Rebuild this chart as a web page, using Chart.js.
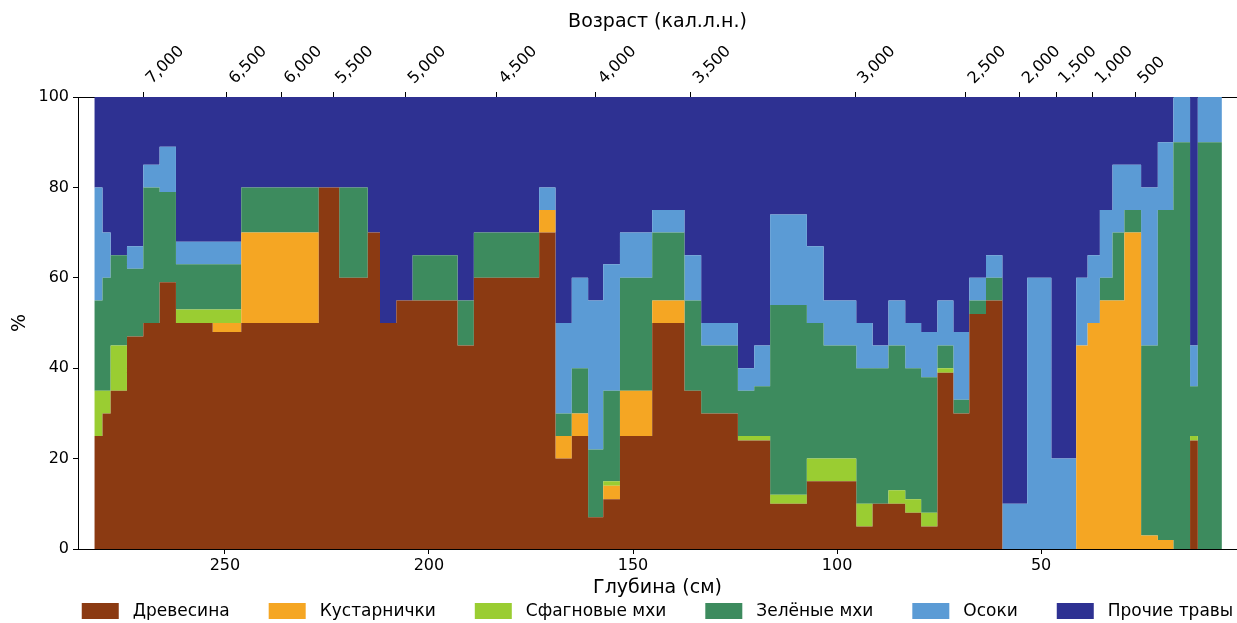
<!DOCTYPE html>
<html lang="ru">
<head>
<meta charset="utf-8">
<title>Растительные остатки по глубине</title>
<script src="https://cdn.jsdelivr.net/npm/chart.js@4.4.1/dist/chart.umd.min.js"></script>
<style>
  html, body { margin: 0; padding: 0; background: #ffffff; }
  #wrap { width: 1237px; height: 623px; }
</style>
</head>
<body>
<div id="wrap"><canvas id="chart" width="1237" height="623"></canvas></div>
<script>
// Top depth of each sample interval (cm); each interval runs to the next depth.
const depths = [282, 280, 278, 274, 270, 266, 262, 253, 246, 227, 222, 215, 212, 208, 204,
  193, 189, 173, 169, 165, 161, 157.3, 153.2, 145.3, 137.4, 133.3, 124.3, 120.3, 116.4,
  107.4, 103.3, 95.3, 91.3, 87.4, 83.3, 79.4, 75.4, 71.5, 67.6, 63.5, 59.5, 53.4, 47.5,
  41.4, 38.6, 35.6, 32.5, 29.6, 25.5, 21.4, 17.6, 13.5, 11.6];
const depthEnd = 5.7;

// Composition of plant remains, % per interval
const wood = [25, 30, 35, 47, 50, 59, 50, 48, 50, 80, 60, 70, 50, 55, 55,
  45, 60, 70, 20, 25, 7, 11, 25, 50, 35, 30, 24, 24, 10,
  15, 15, 5, 10, 10, 8, 5, 39, 30, 52, 55, 0, 0, 0,
  0, 0, 0, 0, 0, 0, 0, 0, 24, 0];
const shrubs = [0, 0, 0, 0, 0, 0, 0, 2, 20, 0, 0, 0, 0, 0, 0,
  0, 0, 5, 5, 5, 0, 3, 10, 5, 0, 0, 0, 0, 0,
  0, 0, 0, 0, 0, 0, 0, 0, 0, 0, 0, 0, 0, 0,
  45, 50, 55, 55, 70, 3, 2, 0, 0, 0];
const sphagnum = [10, 5, 10, 0, 0, 0, 3, 3, 0, 0, 0, 0, 0, 0, 0,
  0, 0, 0, 0, 0, 0, 1, 0, 0, 0, 0, 1, 1, 2,
  5, 5, 5, 0, 3, 3, 3, 1, 0, 0, 0, 0, 0, 0,
  0, 0, 0, 0, 0, 0, 0, 0, 1, 0];
const greenMosses = [20, 25, 20, 15, 30, 20, 10, 10, 10, 0, 20, 0, 0, 0, 10,
  10, 10, 0, 5, 10, 15, 20, 25, 15, 20, 15, 10, 11, 42,
  30, 25, 30, 30, 32, 29, 30, 5, 3, 3, 5, 0, 0, 0,
  0, 0, 5, 15, 5, 42, 73, 90, 11, 90];
const sedges = [25, 10, 0, 5, 5, 10, 5, 5, 0, 0, 0, 0, 0, 0, 0,
  0, 0, 5, 20, 20, 33, 28, 10, 5, 10, 5, 5, 9, 20,
  17, 10, 10, 5, 10, 10, 10, 10, 15, 5, 5, 10, 60, 20,
  15, 15, 15, 15, 10, 35, 15, 10, 9, 10];
const otherHerbs = [20, 30, 35, 33, 15, 11, 32, 32, 20, 20, 20, 30, 50, 45, 35,
  45, 30, 20, 50, 40, 45, 37, 30, 25, 35, 50, 60, 55, 26,
  33, 45, 50, 55, 45, 50, 52, 45, 52, 40, 35, 90, 40, 80,
  40, 35, 25, 15, 15, 20, 10, 0, 55, 0];

const seriesNames = ['Древесина', 'Кустарнички', 'Сфагновые мхи', 'Зелёные мхи', 'Осоки', 'Прочие травы'];
const seriesValues = [wood, shrubs, sphagnum, greenMosses, sedges, otherHerbs];
const seriesColors = ['#8b3a12', '#f5a623', '#9acd32', '#3d8b5e', '#5b9bd5', '#2e3192'];

// Depth axis ticks (cm) and calibrated age marks placed at their depths
const depthTicks = [250, 200, 150, 100, 50];
const percentTicks = [0, 20, 40, 60, 80, 100];
const ageDepths = [269.9, 249.6, 236.1, 223.5, 205.7, 183.4, 159.1, 135.9, 95.6, 68.5, 55.2, 46.3, 37.4, 26.9];
const ageLabels = ['7,000', '6,500', '6,000', '5,500', '5,000', '4,500', '4,000', '3,500', '3,000', '2,500', '2,000', '1,500', '1,000', '500'];

const FONT = '"DejaVu Sans", "Liberation Sans", sans-serif';
Chart.defaults.font.family = FONT;
Chart.defaults.color = '#000';

function stepPoints(values) {
  const pts = depths.map((d, i) => ({ x: d, y: values[i] }));
  pts.push({ x: depthEnd, y: values[values.length - 1] });
  return pts;
}

const datasets = seriesNames.map((name, k) => ({
  label: name,
  data: stepPoints(seriesValues[k]),
  backgroundColor: seriesColors[k],
  borderColor: seriesColors[k],
  borderWidth: 0,
  pointRadius: 0,
  stepped: true,
  fill: k === 0 ? 'origin' : '-1'
}));

// Legend row under the depth axis
const legendRow = {
  id: 'legendRow',
  afterDraw(chart) {
    const ctx = chart.ctx;
    const boxW = 37, boxH = 16, textGap = 14, itemGap = 39;
    const yc = 611;
    ctx.save();
    ctx.font = '17px ' + FONT;
    const items = chart.data.datasets.map(ds => ({
      label: ds.label, color: ds.backgroundColor, w: ctx.measureText(ds.label).width
    }));
    const total = items.reduce((s, it) => s + boxW + textGap + it.w, 0) + itemGap * (items.length - 1);
    const area = chart.chartArea;
    let x = (area.left + area.right) / 2 - total / 2;
    ctx.textBaseline = 'middle';
    ctx.textAlign = 'left';
    items.forEach(it => {
      ctx.fillStyle = it.color;
      ctx.fillRect(x, yc - boxH / 2, boxW, boxH);
      ctx.fillStyle = '#000';
      ctx.fillText(it.label, x + boxW + textGap, yc + 1);
      x += boxW + textGap + it.w + itemGap;
    });
    ctx.restore();
  }
};

new Chart(document.getElementById('chart'), {
  type: 'line',
  data: { datasets },
  plugins: [legendRow],
  options: {
    responsive: false,
    animation: false,
    devicePixelRatio: 1,
    layout: { padding: { left: 0, right: 0, top: 0, bottom: 24 } },
    plugins: { legend: { display: false }, tooltip: { enabled: false } },
    elements: { line: { tension: 0 } },
    scales: {
      x: {
        type: 'linear', position: 'bottom', min: 2, max: 286, reverse: true,
        afterBuildTicks: s => { s.ticks = depthTicks.map(v => ({ value: v })); },
        afterFit: s => { s.height = 50; },
        ticks: { font: { size: 16 }, padding: 2, maxRotation: 0, autoSkip: false, color: '#000' },
        grid: { drawOnChartArea: false, drawTicks: true, tickLength: 5, tickColor: '#000' },
        border: { display: true, color: '#000', width: 1 },
        title: { display: true, text: 'Глубина (см)', font: { size: 19 }, color: '#000', padding: { top: 0, bottom: 0 } }
      },
      xTop: {
        type: 'linear', position: 'top', min: 2, max: 286, reverse: true,
        afterBuildTicks: s => { s.ticks = ageDepths.map(v => ({ value: v })); },
        afterFit: s => { s.height = 97; },
        ticks: {
          font: { size: 16 }, padding: 4, labelOffset: 19, minRotation: 45, maxRotation: 45, autoSkip: false, color: '#000',
          callback: (v, i) => ageLabels[i]
        },
        grid: { drawOnChartArea: false, drawTicks: true, tickLength: 5, tickColor: '#000' },
        border: { display: true, color: '#000', width: 1 },
        title: { display: true, text: 'Возраст (кал.л.н.)', font: { size: 19 }, color: '#000', padding: { top: 11, bottom: 0 } }
      },
      y: {
        stacked: true, min: 0, max: 100, z: 1,
        afterBuildTicks: s => { s.ticks = percentTicks.map(v => ({ value: v })); },
        afterFit: s => { s.width = 78; },
        ticks: { font: { size: 16 }, padding: 4, color: '#000' },
        grid: { color: 'rgba(255,255,255,0.12)', lineWidth: 1, drawTicks: true, tickLength: 5, tickColor: '#000', tickBorderDash: [] },
        border: { display: true, color: '#000', width: 1, dash: [4, 3] },
        title: { display: true, text: '%', font: { size: 19 }, color: '#000', padding: { top: 9, bottom: 0 } }
      }
    }
  }
});
</script>
</body>
</html>
